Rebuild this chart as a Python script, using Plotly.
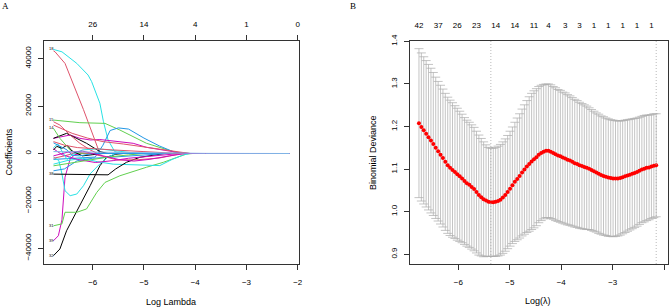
import plotly.graph_objects as go

# ---------------- Panel B data: cross-validated binomial deviance ----------------
log_lambda = [-6.765, -6.718, -6.672, -6.625, -6.579, -6.532, -6.486, -6.439, -6.392, -6.346,
              -6.299, -6.253, -6.206, -6.160, -6.113, -6.066, -6.020, -5.973, -5.927, -5.880,
              -5.834, -5.787, -5.740, -5.694, -5.647, -5.601, -5.554, -5.508, -5.461, -5.414,
              -5.368, -5.321, -5.275, -5.228, -5.182, -5.135, -5.088, -5.042, -4.995, -4.949,
              -4.902, -4.856, -4.809, -4.762, -4.716, -4.669, -4.623, -4.576, -4.530, -4.483,
              -4.437, -4.390, -4.343, -4.297, -4.250, -4.204, -4.157, -4.111, -4.064, -4.017,
              -3.971, -3.924, -3.878, -3.831, -3.785, -3.738, -3.691, -3.645, -3.598, -3.552,
              -3.505, -3.459, -3.412, -3.365, -3.319, -3.272, -3.226, -3.179, -3.133, -3.086,
              -3.039, -2.993, -2.946, -2.900, -2.853, -2.807, -2.760, -2.713, -2.667, -2.620,
              -2.574, -2.527, -2.481, -2.434, -2.388, -2.341, -2.294, -2.248, -2.201, -2.155]

cv_mean = [1.208, 1.199, 1.191, 1.183, 1.175, 1.167, 1.159, 1.150, 1.142, 1.134,
           1.126, 1.117, 1.109, 1.103, 1.098, 1.093, 1.088, 1.083, 1.078, 1.072,
           1.067, 1.063, 1.058, 1.053, 1.046, 1.039, 1.034, 1.029, 1.026, 1.023,
           1.022, 1.022, 1.023, 1.025, 1.028, 1.033, 1.039, 1.046, 1.054, 1.062,
           1.070, 1.077, 1.084, 1.092, 1.099, 1.106, 1.112, 1.118, 1.123, 1.128,
           1.134, 1.138, 1.141, 1.143, 1.143, 1.141, 1.138, 1.135, 1.132, 1.130,
           1.127, 1.125, 1.122, 1.120, 1.117, 1.114, 1.112, 1.109, 1.107, 1.105,
           1.103, 1.101, 1.098, 1.095, 1.092, 1.089, 1.086, 1.084, 1.082, 1.080,
           1.079, 1.078, 1.078, 1.078, 1.079, 1.081, 1.083, 1.085, 1.087, 1.089,
           1.091, 1.093, 1.096, 1.099, 1.101, 1.103, 1.104, 1.106, 1.108, 1.109]

cv_sd = [0.175, 0.174, 0.173, 0.172, 0.171, 0.170, 0.168, 0.166, 0.164, 0.163,
         0.162, 0.161, 0.160, 0.159, 0.158, 0.156, 0.155, 0.153, 0.151, 0.149,
         0.148, 0.147, 0.146, 0.145, 0.143, 0.141, 0.138, 0.135, 0.131, 0.128,
         0.127, 0.127, 0.128, 0.129, 0.130, 0.131, 0.132, 0.133, 0.135, 0.137,
         0.140, 0.143, 0.146, 0.149, 0.152, 0.155, 0.158, 0.160, 0.161, 0.161,
         0.160, 0.159, 0.158, 0.157, 0.157, 0.157, 0.156, 0.156, 0.155, 0.155,
         0.154, 0.154, 0.153, 0.152, 0.151, 0.150, 0.149, 0.148, 0.147, 0.146,
         0.145, 0.143, 0.142, 0.141, 0.140, 0.140, 0.139, 0.139, 0.138, 0.138,
         0.137, 0.137, 0.136, 0.135, 0.134, 0.133, 0.132, 0.131, 0.130, 0.129,
         0.128, 0.127, 0.126, 0.125, 0.125, 0.124, 0.123, 0.122, 0.122, 0.121]

nz_shown_idx = [0, 8, 16, 24, 32, 40, 48, 54, 61, 67, 73, 79, 85, 91, 97]
nz_shown = ["42", "37", "26", "23", "14", "14", "11", "4", "3", "3", "1", "1", "1", "1", "1"]

# ---------------- Panel A data: coefficient paths (log lambda, coefficient) ----------------
coef_top_ticks = [-6, -5, -4, -3, -2]
coef_top_labels = ["26", "14", "4", "1", "0"]

path_01 = [(-6.765, 43900), (-6.60, 42900), (-6.31, 38000), (-6.09, 33100), (-6.02, 30300), (-5.93, 25500),
           (-5.86, 21200), (-5.79, 13400), (-5.70, 5700), (-5.57, 800), (-5.45, 0), (-2.155, 0)]
path_02 = [(-6.765, 43300), (-6.735, 42900), (-6.54, 38000), (-6.18, 18500), (-5.86, 0), (-2.155, 0)]
path_03 = [(-6.765, 14100), (-6.25, 13000), (-5.76, 12700), (-5.47, 9900), (-4.95, 4300), (-4.40, 600),
           (-4.10, 0), (-2.155, 0)]
path_04 = [(-6.765, -2500), (-6.30, -2000), (-5.95, -1500), (-5.80, 3500), (-5.66, 9700), (-5.50, 10800),
           (-5.30, 10300), (-5.00, 6500), (-4.70, 3200), (-4.40, 500), (-4.25, 0), (-2.155, 0)]
path_05 = [(-6.765, 6400), (-6.44, 7800), (-6.25, 6400), (-6.05, 5700), (-5.86, 5900), (-5.60, 5300),
           (-5.21, 4300), (-4.95, 2600), (-4.60, 1300), (-4.30, 300), (-4.10, 0), (-2.155, 0)]
path_06 = [(-6.765, 6400), (-6.51, 8500), (-6.38, 7100), (-6.12, 4300), (-5.86, 800), (-5.70, 0), (-2.155, 0)]
path_07 = [(-6.765, 13400), (-6.64, 12000), (-6.44, 7800), (-6.25, 4300), (-6.05, 1500), (-5.90, 0), (-2.155, 0)]
path_08 = [(-6.765, -36800), (-6.67, -34700), (-6.60, -28000), (-6.57, -20000), (-6.54, -10000), (-6.44, -2300),
           (-6.35, -500), (-6.20, 0), (-2.155, 0)]
path_09 = [(-6.765, -43100), (-6.64, -40300), (-6.51, -32600), (-6.28, -23400), (-6.05, -13600), (-5.86, -5200),
           (-5.73, -1600), (-5.55, -300), (-5.40, 0), (-2.155, 0)]
path_10 = [(-6.765, -30500), (-6.60, -29700), (-6.54, -24800), (-6.31, -24800), (-6.12, -23400), (-5.92, -16400),
           (-5.76, -12200), (-5.47, -9400), (-4.95, -5800), (-4.62, -3700), (-4.17, -200), (-4.05, 0), (-2.155, 0)]
path_11 = [(-6.765, -1500), (-6.66, -3000), (-6.60, -8600), (-6.54, -15700), (-6.44, -17800), (-6.31, -17100),
           (-6.18, -13600), (-6.05, -8600), (-5.86, -4400), (-5.70, -1500), (-5.55, 0), (-2.155, 0)]
path_12 = [(-6.765, -4500), (-6.50, -3000), (-6.20, -2000), (-5.90, -3500), (-5.60, -4500), (-5.20, -4800),
           (-4.88, -4900), (-4.69, -5100), (-4.45, -2500), (-4.23, -600), (-4.10, 0), (-2.155, 0)]
path_13 = [(-6.765, -8700), (-6.30, -8800), (-5.70, -9000), (-5.55, -6500), (-5.34, -3700), (-5.08, -1600),
           (-4.80, -500), (-4.60, 0), (-2.155, 0)]
path_14 = [(-6.765, 10600), (-6.64, 6400), (-6.44, 1500), (-6.30, 0), (-2.155, 0)]
path_15 = [(-6.765, -7300), (-6.55, -6500), (-6.30, -3000), (-6.00, -2000), (-5.60, -1500), (-5.20, -1000),
           (-4.80, -400), (-4.55, 0), (-2.155, 0)]
path_16 = [(-6.765, -2000), (-6.55, -1000), (-6.30, 500), (-6.05, 0), (-5.80, -1200), (-5.50, -2800),
           (-5.10, -2600), (-4.70, -1900), (-4.35, -400), (-4.20, 0), (-2.155, 0)]
path_17 = [(-6.765, 2000), (-6.60, -500), (-6.30, -2500), (-5.95, -3800), (-5.60, -3000), (-5.30, -2000),
           (-4.90, -1200), (-4.50, -300), (-4.30, 0), (-2.155, 0)]
path_18 = [(-6.765, -5200), (-6.50, -4200), (-6.10, -2800), (-5.70, -1500), (-5.30, -600), (-5.00, 0), (-2.155, 0)]
path_19 = [(-6.765, 2500), (-6.68, 4000), (-6.60, 1000), (-6.50, -2500), (-6.40, -500), (-6.20, 1500),
           (-5.90, 2000), (-5.60, 1200), (-5.30, 400), (-5.10, 0), (-2.155, 0)]
path_20 = [(-6.765, 1500), (-6.70, 3000), (-6.60, 2200), (-6.50, 3500), (-6.40, 1000), (-6.20, -1000),
           (-6.00, -500), (-5.80, 0), (-2.155, 0)]
path_21 = [(-6.765, 4500), (-6.62, 3000), (-6.50, 1500), (-6.40, -800), (-6.25, -1000), (-6.00, 0), (-2.155, 0)]
path_22 = [(-6.765, 5000), (-6.55, 3500), (-6.30, 2500), (-6.00, 2000), (-5.60, 1500), (-5.00, 800),
           (-4.50, 200), (-4.30, 0), (-2.155, 0)]
path_23 = [(-6.765, 12000), (-6.60, 10500), (-6.40, 8500), (-6.10, 6500), (-5.80, 5000), (-5.40, 4000),
           (-5.00, 2800), (-4.60, 1400), (-4.30, 400), (-4.10, 0), (-2.155, 0)]
path_24 = [(-6.765, -1000), (-6.50, 500), (-6.20, 1000), (-5.90, -500), (-5.50, -2500), (-5.20, -3200),
           (-4.90, -2500), (-4.50, -1000), (-4.20, 0), (-2.155, 0)]
path_25 = [(-6.765, 800), (-6.00, 600), (-5.00, 400), (-4.30, 200), (-3.80, 50), (-2.155, 0)]

paths = [path_01, path_02, path_03, path_04, path_05, path_06, path_07, path_08, path_09, path_10,
         path_11, path_12, path_13, path_14, path_15, path_16, path_17, path_18, path_19, path_20,
         path_21, path_22, path_23, path_24, path_25]
# variable numbers printed at the left end of the paths (only the legible, separated ones)
path_labels = ["18", "", "15", "", "", "", "", "39", "32", "31",
               "", "", "38", "14", "", "", "", "", "", "",
               "", "", "", "", ""]

# ---------------- Styles ----------------
R_PAL = ["#28E2E5", "#DF536B", "#61D04F", "#2297E6", "#CD0BBC", "black", "#DF536B", "#CD0BBC", "black",
         "#61D04F", "#28E2E5", "#28E2E5", "black", "#61D04F", "#2297E6", "#DF536B", "#CD0BBC", "#61D04F",
         "#28E2E5", "black", "#2297E6", "#DF536B", "#DF536B", "#CD0BBC", "#7fb6e6"]
SANS = "Liberation Sans, Arial, sans-serif"
SERIF = "Liberation Serif, Times New Roman, serif"
AXC = "#333333"
W, H = 669, 308

fig = go.Figure()

# Panel A traces
for p, col in zip(paths, R_PAL):
    fig.add_trace(go.Scatter(x=[q[0] for q in p], y=[q[1] for q in p], mode="lines",
                             line=dict(color=col, width=1), xaxis="x", yaxis="y",
                             showlegend=False, hoverinfo="skip"))
lab_pts = [(p[0][0], p[0][1], t) for p, t in zip(paths, path_labels) if t]
fig.add_trace(go.Scatter(x=[q[0] for q in lab_pts], y=[q[1] for q in lab_pts], text=[q[2] for q in lab_pts],
                         mode="text", textposition="middle left",
                         textfont=dict(size=4, color="black", family=SANS),
                         xaxis="x", yaxis="y", showlegend=False, hoverinfo="skip"))
# dummy for top axis of A
fig.add_trace(go.Scatter(x=coef_top_ticks, y=[0] * len(coef_top_ticks), mode="markers", opacity=0,
                         xaxis="x3", yaxis="y", showlegend=False, hoverinfo="skip"))

# Panel B traces
fig.add_trace(go.Scatter(x=log_lambda, y=cv_mean, mode="markers",
                         marker=dict(color="red", size=4, line=dict(width=0)),
                         error_y=dict(type="data", array=cv_sd, visible=True, color="#ABABAB",
                                      thickness=0.7, width=4.5),
                         xaxis="x2", yaxis="y2", showlegend=False, hoverinfo="skip"))
top_b_x = [log_lambda[i] for i in nz_shown_idx]
fig.add_trace(go.Scatter(x=top_b_x, y=[cv_mean[i] for i in nz_shown_idx], mode="markers", opacity=0,
                         xaxis="x4", yaxis="y2", showlegend=False, hoverinfo="skip"))

# lambda.min and lambda.1se lines
i_min = min(range(len(cv_mean)), key=lambda i: cv_mean[i])
thr = cv_mean[i_min] + cv_sd[i_min]
i_1se = max(i for i in range(len(cv_mean)) if cv_mean[i] <= thr)
for i in (i_min, i_1se):
    fig.add_shape(type="line", xref="x2", yref="y2 domain", x0=log_lambda[i], x1=log_lambda[i],
                  y0=0, y1=1, line=dict(color="#a8a8a8", width=0.8, dash="1px,2px"))

xdomA = [44 / W, 299 / W]
xdomB = [410 / W, 668 / W]
ydom = [44 / H, 267 / H]

tickfont = dict(family=SANS, size=8, color="black")
common = dict(showgrid=False, zeroline=False, showline=True, mirror=True, linecolor=AXC, linewidth=1,
              ticks="outside", ticklen=5, tickwidth=1, tickcolor=AXC, tickfont=tickfont, automargin=False)

fig.update_layout(
    width=W, height=H, margin=dict(l=0, r=0, t=0, b=0), autosize=False,
    paper_bgcolor="white", plot_bgcolor="white", template="none",
    xaxis=dict(domain=xdomA, anchor="y", range=[-6.950, -1.975], tickvals=[-6, -5, -4, -3, -2],
               ticklabelstandoff=5, **common),
    yaxis=dict(domain=ydom, anchor="x", range=[-46620, 47460], tickvals=[-40000, -20000, 0, 20000, 40000],
               tickformat="d", tickangle=-90, ticklabelstandoff=4, **common),
    xaxis3=dict(overlaying="x", side="top", anchor="y", range=[-6.950, -1.975], tickvals=coef_top_ticks,
                ticktext=coef_top_labels, showgrid=False, zeroline=False, showline=False, ticks="outside",
                ticklen=5, tickwidth=1, tickcolor=AXC, tickfont=tickfont, automargin=False, ticklabelstandoff=5),
    xaxis2=dict(domain=xdomB, anchor="y2", range=[-6.939, -1.926], tickvals=[-6, -5, -4, -3, -2],
                ticklabelstandoff=5, **common),
    yaxis2=dict(domain=ydom, anchor="x2", range=[0.877, 1.401], tickvals=[0.9, 1.0, 1.1, 1.2, 1.3, 1.4],
                tickformat=".1f", tickangle=-90, ticklabelstandoff=4, **common),
    xaxis4=dict(overlaying="x2", side="top", anchor="y2", range=[-6.939, -1.926], tickvals=top_b_x,
                ticktext=nz_shown, showgrid=False, zeroline=False, showline=False, ticks="",
                tickfont=tickfont, automargin=False, ticklabelstandoff=10),
)

ann = dict(showarrow=False, xref="paper", yref="paper", xanchor="center", yanchor="middle")
fig.add_annotation(text="A", x=5 / W, y=1 - 6 / H, font=dict(family=SERIF, size=9, color="black"), **ann)
fig.add_annotation(text="B", x=353 / W, y=1 - 6 / H, font=dict(family=SERIF, size=9, color="black"), **ann)
fig.add_annotation(text="Log Lambda", x=171 / W, y=1 - 302 / H, font=dict(family=SANS, size=9, color="black"), **ann)
fig.add_annotation(text="Log(λ)", x=538 / W, y=1 - 301 / H, font=dict(family=SANS, size=9, color="black"), **ann)
fig.add_annotation(text="Coefficients", x=8 / W, y=1 - 152.5 / H, textangle=-90,
                   font=dict(family=SANS, size=9, color="black"), **ann)
fig.add_annotation(text="Binomial Deviance", x=372.5 / W, y=1 - 152.5 / H, textangle=-90,
                   font=dict(family=SANS, size=9, color="black"), **ann)

fig.write_html("out.html", config={"displayModeBar": False},
               post_script="document.body.style.margin='0px';")
